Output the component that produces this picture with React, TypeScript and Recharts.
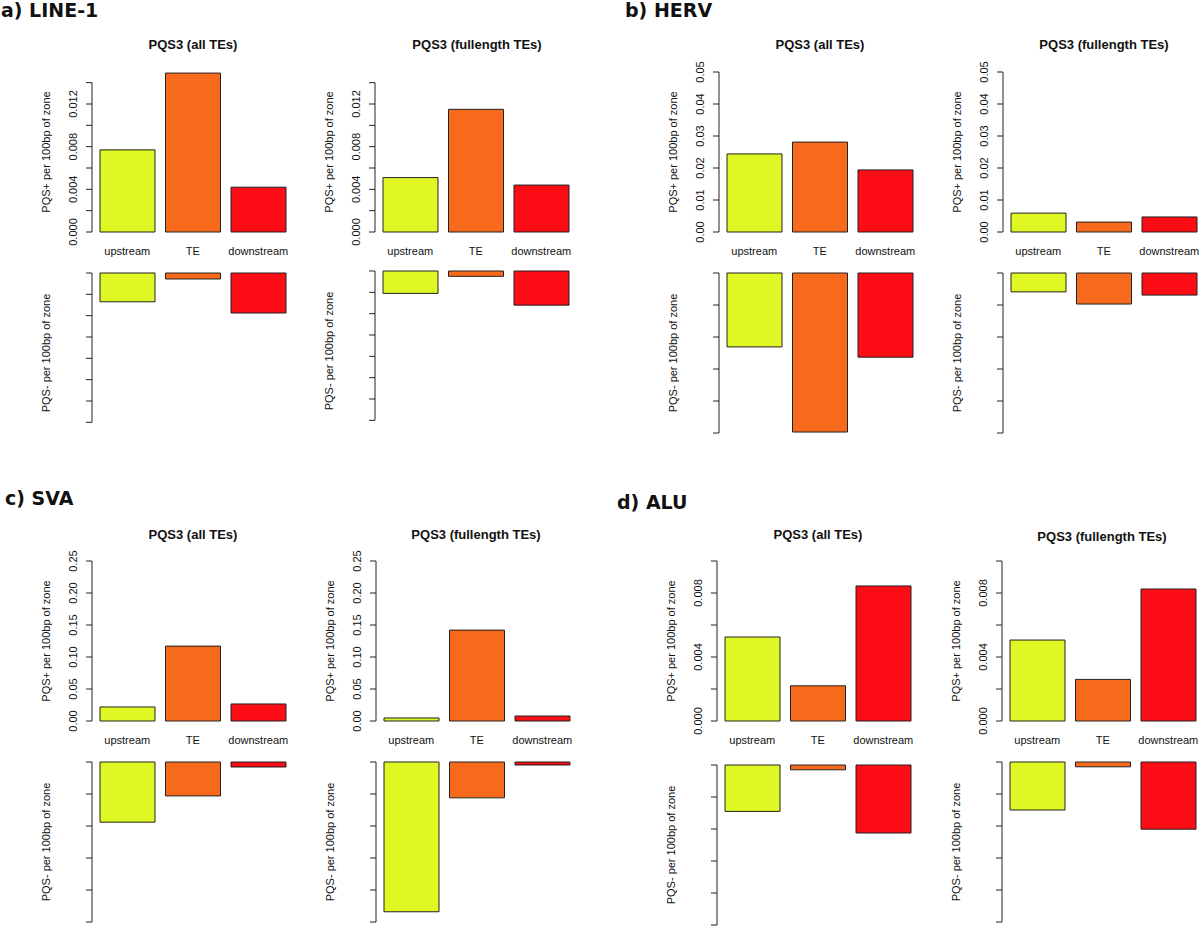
import { BarChart, Bar, XAxis, YAxis, Cell } from 'recharts';

const ZONES = ['upstream', 'TE', 'downstream'];
const ZONE_COLORS = ['#dff823', '#f86a1b', '#fc0d16'];

// a) LINE-1
const line1AllPlus = [0.0077, 0.0149, 0.0042];
const line1AllMinus = [0.0027, 0.00056, 0.00375];
const line1FullPlus = [0.0051, 0.0115, 0.0044];
const line1FullMinus = [0.0021, 0.0005, 0.0032];
const line1Ticks = [0, 0.002, 0.004, 0.006, 0.008, 0.01, 0.012, 0.014];
const line1TickLabels = ['0.000', '', '0.004', '', '0.008', '', '0.012', ''];

// b) HERV
const hervAllPlus = [0.0244, 0.0281, 0.0194];
const hervAllMinus = [0.0231, 0.0497, 0.0263];
const hervFullPlus = [0.0059, 0.0031, 0.0047];
const hervFullMinus = [0.0059, 0.0097, 0.0069];
const hervTicks = [0, 0.01, 0.02, 0.03, 0.04, 0.05];
const hervTickLabels = ['0.00', '0.01', '0.02', '0.03', '0.04', '0.05'];

// c) SVA
const svaAllPlus = [0.0219, 0.117, 0.0266];
const svaAllMinus = [0.094, 0.053, 0.0078];
const svaFullPlus = [0.0047, 0.142, 0.0078];
const svaFullMinus = [0.234, 0.056, 0.0047];
const svaTicks = [0, 0.05, 0.1, 0.15, 0.2, 0.25];
const svaTickLabels = ['0.00', '0.05', '0.10', '0.15', '0.20', '0.25'];

// d) ALU
const aluAllPlus = [0.00525, 0.0022, 0.00844];
const aluAllMinus = [0.0029, 0.0003, 0.00425];
const aluFullPlus = [0.00506, 0.0026, 0.00825];
const aluFullMinus = [0.003, 0.0003, 0.0042];
const aluTicks = [0, 0.002, 0.004, 0.006, 0.008, 0.01];
const aluTickLabels = ['0.000', '', '0.004', '', '0.008', ''];

const PLOT_H = 160;
const PLOT_W = 201.5;
const YAXIS_W = 60;
const TOP_PAD = 15;
const INK = '#222';

function AxisTitle({ viewBox, text }: any) {
  const cx = viewBox.x + viewBox.width - 42;
  const cy = viewBox.y + viewBox.height / 2;
  return (
    <text transform={`translate(${cx},${cy}) rotate(-90)`} textAnchor="middle" fontSize={11} fill="#111">
      {text}
    </text>
  );
}

// R-style axis: line only spans the tick range, labels parallel to the axis
function makeTick(ticks: number[], labels: string[], lineLen: number, dir: number) {
  return (props: any) => {
    const { x, y, payload } = props;
    const ax = x + 8;
    const label = labels[ticks.indexOf(payload.value)];
    return (
      <g>
        <line x1={ax - 6} x2={ax} y1={y} y2={y} stroke={INK} />
        {payload.value === 0 && <line x1={ax} x2={ax} y1={y} y2={y + dir * lineLen} stroke={INK} />}
        {label && (
          <text transform={`translate(${ax - 15},${y}) rotate(-90)`} textAnchor="middle" fontSize={11} fill="#111">
            {label}
          </text>
        )}
      </g>
    );
  };
}

interface SubplotProps {
  barStart: number;
  topZero: number;
  bottomZero: number;
  plus: number[];
  minus: number[];
  domainMax: number;
  ticks: number[];
  tickLabels: string[];
  title: string;
  titleX: number;
  titleY: number;
}

function Subplot({ barStart, topZero, bottomZero, plus, minus, domainMax, ticks, tickLabels, title, titleX, titleY }: SubplotProps) {
  const axisX = barStart - 8;
  const plusData = ZONES.map((zone, i) => ({ zone, value: plus[i] }));
  const minusData = ZONES.map((zone, i) => ({ zone, value: minus[i] }));
  const lineLen = (PLOT_H * ticks[ticks.length - 1]) / domainMax;
  const cells = ZONES.map((z, i) => <Cell key={z} fill={ZONE_COLORS[i]} />);

  return (
    <>
      <div
        style={{
          position: 'absolute',
          left: titleX,
          top: titleY - 8,
          transform: 'translateX(-50%)',
          fontSize: 13,
          lineHeight: '16px',
          fontWeight: 'bold',
          whiteSpace: 'nowrap',
        }}
      >
        {title}
      </div>
      <div style={{ position: 'absolute', left: axisX - YAXIS_W, top: topZero - PLOT_H - TOP_PAD }}>
        <BarChart
          width={YAXIS_W + PLOT_W + 5}
          height={TOP_PAD + PLOT_H + 30}
          data={plusData}
          margin={{ top: TOP_PAD, right: 5, bottom: 0, left: 0 }}
          barCategoryGap={5.5}
        >
          <XAxis
            dataKey="zone"
            axisLine={false}
            tickLine={false}
            tickSize={6}
            tickMargin={9}
            height={30}
            interval={0}
            padding={{ left: 2.5, right: 2.5 }}
            tick={{ fontSize: 11, fill: '#111' }}
          />
          <YAxis
            type="number"
            domain={[0, domainMax]}
            ticks={ticks}
            interval={0}
            width={YAXIS_W}
            axisLine={false}
            tickLine={false}
            tickSize={6}
            tickMargin={2}
            tick={makeTick(ticks, tickLabels, lineLen, -1)}
            label={<AxisTitle text="PQS+ per 100bp of zone" />}
          />
          <Bar dataKey="value" stroke={INK} strokeWidth={1} isAnimationActive={false}>
            {cells}
          </Bar>
        </BarChart>
      </div>
      <div style={{ position: 'absolute', left: axisX - YAXIS_W, top: bottomZero - 5 }}>
        <BarChart
          width={YAXIS_W + PLOT_W + 5}
          height={5 + PLOT_H + 5}
          data={minusData}
          margin={{ top: 5, right: 5, bottom: 5, left: 0 }}
          barCategoryGap={5.5}
        >
          <XAxis dataKey="zone" hide padding={{ left: 2.5, right: 2.5 }} />
          <YAxis
            type="number"
            reversed
            domain={[0, domainMax]}
            ticks={ticks}
            interval={0}
            width={YAXIS_W}
            axisLine={false}
            tickLine={false}
            tickSize={6}
            tickMargin={2}
            tick={makeTick(ticks, [], lineLen, 1)}
            label={<AxisTitle text="PQS- per 100bp of zone" />}
          />
          <Bar dataKey="value" stroke={INK} strokeWidth={1} isAnimationActive={false}>
            {cells}
          </Bar>
        </BarChart>
      </div>
    </>
  );
}

function PanelLabel({ text, x, y }: { text: string; x: number; y: number }) {
  return (
    <div
      style={{
        position: 'absolute',
        left: x,
        top: y - 10,
        fontFamily: "'DejaVu Sans', sans-serif",
        fontWeight: 'bold',
        fontSize: 19,
        lineHeight: '20px',
        whiteSpace: 'nowrap',
      }}
    >
      {text}
    </div>
  );
}

export default function App() {
  return (
    <div
      style={{
        position: 'absolute',
        left: 0,
        top: 0,
        width: 1200,
        height: 927,
        background: '#fff',
        color: '#111',
        fontFamily: "'Liberation Sans', Arial, sans-serif",
        overflow: 'hidden',
      }}
    >
      <PanelLabel text="a) LINE-1" x={1} y={10} />
      <PanelLabel text="b) HERV" x={625} y={10} />
      <PanelLabel text="c) SVA" x={5} y={498} />
      <PanelLabel text="d) ALU" x={617} y={502} />

      <Subplot barStart={100} topZero={232} bottomZero={273} plus={line1AllPlus} minus={line1AllMinus}
        domainMax={0.015} ticks={line1Ticks} tickLabels={line1TickLabels}
        title="PQS3 (all TEs)" titleX={193} titleY={45} />
      <Subplot barStart={383} topZero={232} bottomZero={271} plus={line1FullPlus} minus={line1FullMinus}
        domainMax={0.015} ticks={line1Ticks} tickLabels={line1TickLabels}
        title="PQS3 (fullength TEs)" titleX={477} titleY={45} />

      <Subplot barStart={727} topZero={232} bottomZero={273} plus={hervAllPlus} minus={hervAllMinus}
        domainMax={0.05} ticks={hervTicks} tickLabels={hervTickLabels}
        title="PQS3 (all TEs)" titleX={820} titleY={45} />
      <Subplot barStart={1011} topZero={232} bottomZero={273} plus={hervFullPlus} minus={hervFullMinus}
        domainMax={0.05} ticks={hervTicks} tickLabels={hervTickLabels}
        title="PQS3 (fullength TEs)" titleX={1104} titleY={45} />

      <Subplot barStart={100} topZero={721} bottomZero={762} plus={svaAllPlus} minus={svaAllMinus}
        domainMax={0.25} ticks={svaTicks} tickLabels={svaTickLabels}
        title="PQS3 (all TEs)" titleX={193} titleY={535} />
      <Subplot barStart={384} topZero={721} bottomZero={762} plus={svaFullPlus} minus={svaFullMinus}
        domainMax={0.25} ticks={svaTicks} tickLabels={svaTickLabels}
        title="PQS3 (fullength TEs)" titleX={476} titleY={535} />

      <Subplot barStart={725} topZero={721} bottomZero={765} plus={aluAllPlus} minus={aluAllMinus}
        domainMax={0.01} ticks={aluTicks} tickLabels={aluTickLabels}
        title="PQS3 (all TEs)" titleX={818} titleY={535} />
      <Subplot barStart={1010} topZero={721} bottomZero={762} plus={aluFullPlus} minus={aluFullMinus}
        domainMax={0.01} ticks={aluTicks} tickLabels={aluTickLabels}
        title="PQS3 (fullength TEs)" titleX={1102} titleY={537} />
    </div>
  );
}
